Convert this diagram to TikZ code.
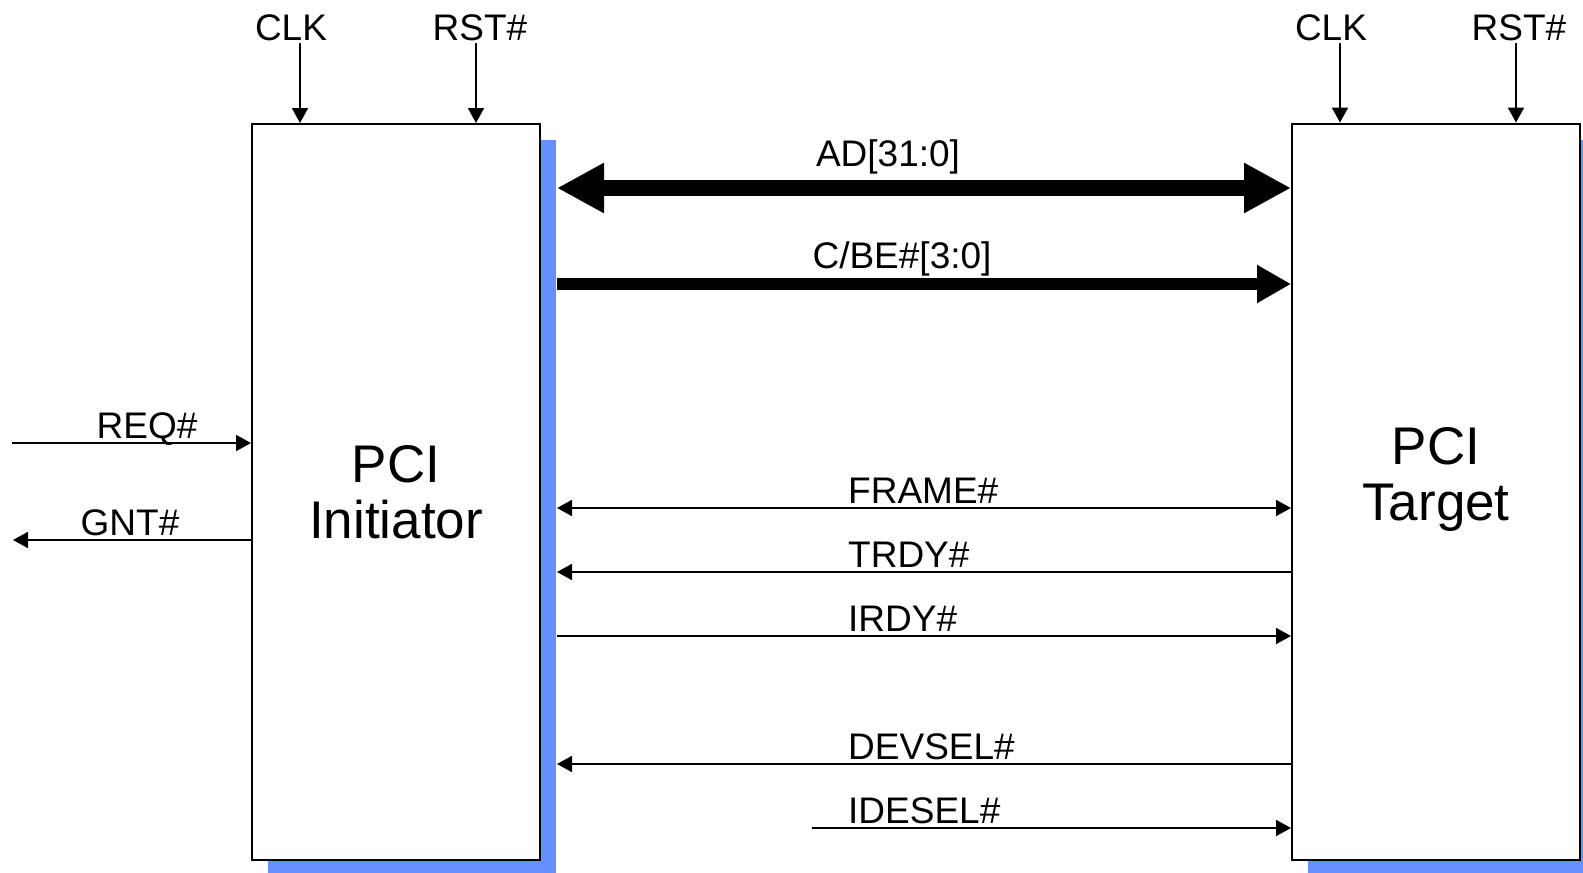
\documentclass[tikz,border=0pt]{standalone}
\usepackage{fontspec}
\setmainfont{Liberation Sans}
\usepackage{xcolor}
\usetikzlibrary{arrows.meta,shadows}
\definecolor{shadowblue}{HTML}{6690FF}

\begin{document}
\begin{tikzpicture}[x=1pt,y=-1pt, >={Triangle[length=15pt,width=16pt]}, box/.style={draw,line width=2pt,fill=white,inner sep=0pt,minimum width=288pt,minimum height=736pt,align=center,font=\fontsize{53}{56}\selectfont,general shadow={fill=shadowblue,shadow xshift=16pt,shadow yshift=-16pt}}, boxtitle/.style={align=center,inner sep=0pt,font=\fontsize{53}{56}\selectfont}, lbl/.style={inner sep=0pt,font=\fontsize{37}{41}\selectfont}, sig/.style={line width=2pt}]
\useasboundingbox (0,0) rectangle (1583,873);
\node[box] (init) at (396,492) {PCI\\Initiator};
\node[box] (tgt) at (1436,491.5) {};
\node[boxtitle] (tgtname) at ([yshift=12pt]tgt.center) {PCI\\Target};
\coordinate (ibus) at ([xshift=16pt]init.east);
% clock and reset inputs
\coordinate (iclk) at (300,43);
\coordinate (irst) at (476,43);
\coordinate (tclk) at (1340,43);
\coordinate (trst) at (1516,43);
\draw[sig,->] (iclk)--(iclk |- init.north);
\draw[sig,->] (irst)--(irst |- init.north);
\draw[sig,->] (tclk)--(tclk |- tgt.north);
\draw[sig,->] (trst)--(trst |- tgt.north);
\node[lbl,anchor=base] (iclklbl) at (291,40) {CLK};
\node[lbl,anchor=base] (irstlbl) at (480,40) {RST\#};
\node[lbl,anchor=base] (tclklbl) at (1331,40) {CLK};
\node[lbl,anchor=base] (trstlbl) at (1519,40) {RST\#};
% arbiter signals
\coordinate (req) at (12,443);
\coordinate (gnt) at (13,540);
\draw[sig,->] (req)--(req -| init.west);
\draw[sig,<-] (gnt)--(gnt -| init.west);
\node[lbl,anchor=base] (reqlbl) at (147,438) {REQ\#};
\node[lbl,anchor=base] (gntlbl) at (130,535) {GNT\#};
% buses
\draw[line width=16pt,{Triangle[length=47pt,width=47pt]}-{Triangle[length=47pt,width=47pt]}] (ibus |- 0,188)--(tgt.west |- 0,188);
\node[lbl,anchor=base] (adlbl) at (888,166) {AD[31:0]};
\draw[line width=12pt,-{Triangle[length=34pt,width=36pt]}] (ibus |- 0,284)--(tgt.west |- 0,284);
\node[lbl,anchor=base] (cbelbl) at (902,268) {C/BE\#[3:0]};
% control signals
\draw[sig,<->] (ibus |- 0,508)--(tgt.west |- 0,508);
\node[lbl,anchor=base west] (framelbl) at (848,503) {FRAME\#};
\draw[sig,<-] (ibus |- 0,572)--(tgt.west |- 0,572);
\node[lbl,anchor=base west] (trdylbl) at (848,567) {TRDY\#};
\draw[sig,->] (ibus |- 0,636)--(tgt.west |- 0,636);
\node[lbl,anchor=base west] (irdylbl) at (848,631) {IRDY\#};
\draw[sig,<-] (ibus |- 0,764)--(tgt.west |- 0,764);
\node[lbl,anchor=base west] (devsellbl) at (848,759) {DEVSEL\#};
\coordinate (idsel) at (812,828);
\draw[sig,->] (idsel)--(idsel -| tgt.west);
\node[lbl,anchor=base west] (idsellbl) at (848,823) {IDESEL\#};
\end{tikzpicture}
\end{document}
